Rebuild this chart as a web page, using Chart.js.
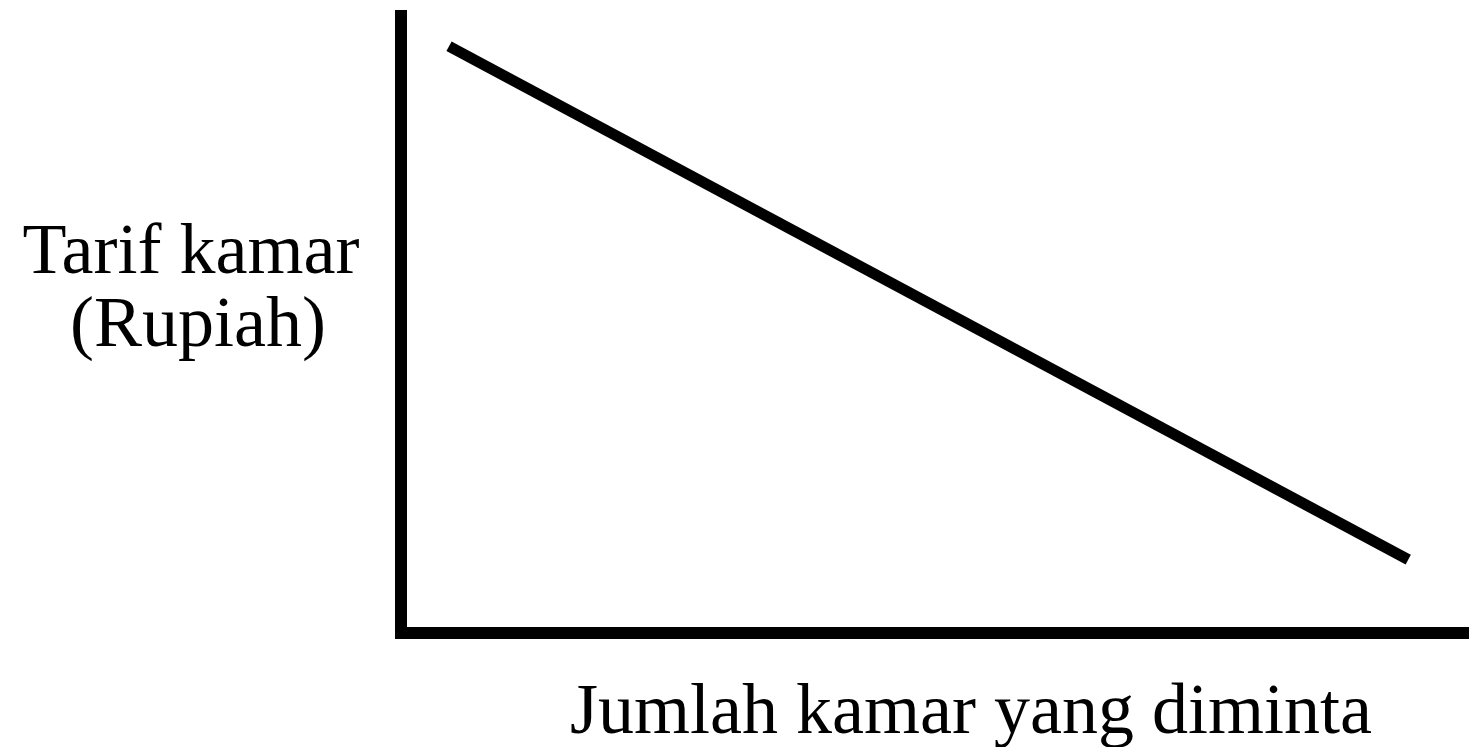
<!DOCTYPE html>
<html lang="id">
<head>
  <meta charset="UTF-8" />
  <title>Kurva permintaan kamar</title>
  <script src="https://cdn.jsdelivr.net/npm/chart.js"></script>
  <style>
    body {
      margin: 0;
      background: #ffffff;
    }
    .wrap {
      width: 1470px;
      height: 747px;
    }
  </style>
</head>
<body>
  <div class="wrap">
    <canvas id="demandChart"></canvas>
  </div>

  <script>
    // data (axes have no numbers, scale 0..10)
    const jumlahKamar = [0.45, 9.44];
    const tarifKamar = [9.51, 1.19];
    const labelY = ['Tarif kamar', '(Rupiah)'];
    const labelX = 'Jumlah kamar yang diminta';

    const points = jumlahKamar.map((x, i) => ({ x: x, y: tarifKamar[i] }));

    // axis labels drawn as plain text next to the axes
    const axisText = {
      id: 'axisText',
      afterDraw(chart) {
        const { ctx, chartArea } = chart;
        ctx.save();
        ctx.fillStyle = '#000';
        ctx.font = '72px "Liberation Serif", serif';
        ctx.textAlign = 'center';
        ctx.textBaseline = 'alphabetic';
        ctx.fillText(labelY[0], chartArea.left - 210, 273);
        ctx.fillText(labelY[1], chartArea.left - 203, 346);
        ctx.fillText(labelX, chartArea.left + 570, 733);
        ctx.restore();
      }
    };

    new Chart(document.getElementById('demandChart'), {
      type: 'line',
      data: {
        datasets: [{
          data: points,
          borderColor: '#000',
          borderWidth: 11,
          borderCapStyle: 'butt',
          pointRadius: 0,
          tension: 0,
          fill: false
        }]
      },
      options: {
        responsive: true,
        maintainAspectRatio: false,
        animation: false,
        layout: {
          padding: { left: 401, right: 2, top: 16, bottom: 114 }
        },
        plugins: {
          legend: { display: false },
          tooltip: { enabled: false }
        },
        scales: {
          x: {
            type: 'linear',
            min: 0,
            max: 10,
            grid: { display: false },
            ticks: { display: false },
            border: { display: true, color: '#000', width: 12 },
            afterFit(scale) { scale.height = 0; }
          },
          y: {
            type: 'linear',
            min: 0,
            max: 10,
            grid: { display: false },
            ticks: { display: false },
            border: { display: true, color: '#000', width: 12 },
            afterFit(scale) { scale.width = 0; }
          }
        }
      },
      plugins: [axisText]
    });
  </script>
</body>
</html>
